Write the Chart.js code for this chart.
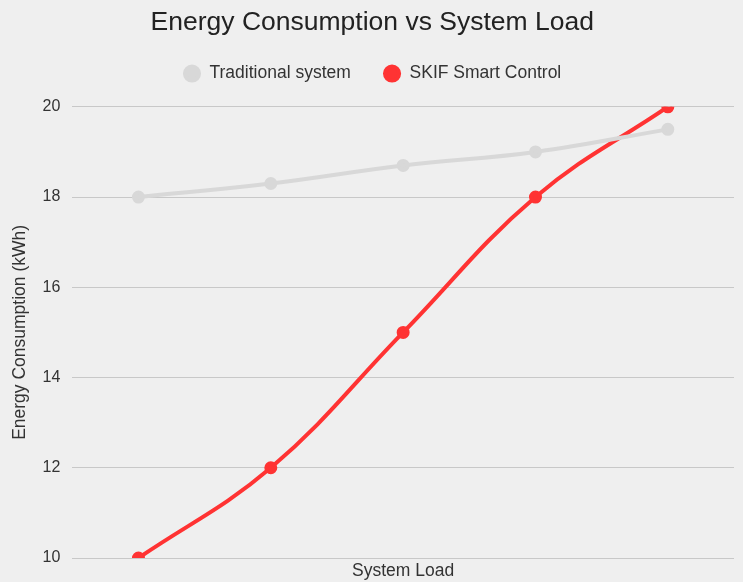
<!DOCTYPE html>
<html>
<head>
<meta charset="utf-8">
<script src="https://cdn.jsdelivr.net/npm/chart.js@4"></script>
<style>
  html, body { margin: 0; padding: 0; background: #efefef; }
  #wrap { width: 743px; height: 582px; }
</style>
</head>
<body>
<div id="wrap"><canvas id="c"></canvas></div>
<script>
// Load steps along the x axis (labels are not shown on the axis)
const loadLevels = ['20%', '40%', '60%', '80%', '100%'];
// Energy consumption in kWh for each load step
const traditionalValues = [18, 18.3, 18.7, 19, 19.5];
const skifValues = [10, 12, 15, 18, 20];
// Y axis range and tick step
const yMin = 10;
const yMax = 20;
const yStep = 2;

const fontFamily = '"Liberation Sans", Arial, Helvetica, sans-serif';

// Paint the light grey page colour behind the whole canvas
const bgPlugin = {
  id: 'bg',
  beforeDraw(chart) {
    const ctx = chart.ctx;
    ctx.save();
    ctx.fillStyle = '#efefef';
    ctx.fillRect(0, 0, chart.width, chart.height);
    ctx.restore();
  }
};

new Chart(document.getElementById('c'), {
  type: 'line',
  data: {
    labels: loadLevels,
    datasets: [
      {
        label: 'Traditional system',
        data: traditionalValues,
        borderColor: '#d8d8d8',
        backgroundColor: '#d8d8d8',
        borderWidth: 4,
        pointRadius: 4.5,
        pointHoverRadius: 5,
        tension: 0.4
      },
      {
        label: 'SKIF Smart Control',
        data: skifValues,
        borderColor: '#ff3333',
        backgroundColor: '#ff3333',
        borderWidth: 4,
        pointRadius: 4.5,
        pointHoverRadius: 5,
        tension: 0.4
      }
    ]
  },
  options: {
    responsive: true,
    maintainAspectRatio: false,
    animation: false,
    layout: { padding: { left: 9.5, right: 8, top: 7, bottom: 0 } },
    plugins: {
      title: {
        display: true,
        text: 'Energy Consumption vs System Load',
        color: '#222',
        font: { family: fontFamily, size: 26.5, weight: 'normal', lineHeight: 1.2 },
        padding: { top: 0, bottom: 13 }
      },
      // empty box that sits under the legend to leave room above the plot
      subtitle: {
        display: true,
        text: '',
        weight: 500,
        padding: 0,
        font: { size: 14.5, lineHeight: 1 }
      },
      legend: {
        display: true,
        labels: {
          usePointStyle: true,
          pointStyle: 'circle',
          boxWidth: 17.5,
          boxHeight: 10,
          padding: 13,
          color: '#333',
          font: { family: fontFamily, size: 17.5 },
          generateLabels(chart) {
            const items = Chart.defaults.plugins.legend.labels.generateLabels(chart);
            // wider gap after the first entry
            if (items.length > 1) items[0].text = items[0].text + '    ';
            return items;
          }
        }
      },
      tooltip: { enabled: false }
    },
    scales: {
      x: {
        offset: true,
        grid: { display: false, drawTicks: false },
        border: { display: false },
        ticks: { display: false },
        title: {
          display: true,
          text: 'System Load',
          color: '#333',
          font: { family: fontFamily, size: 17.5, lineHeight: 1.2 },
          padding: { top: 3, bottom: 0 }
        }
      },
      y: {
        min: yMin,
        max: yMax,
        grid: { color: '#c8c8c8', lineWidth: 1, drawTicks: false },
        border: { display: false },
        ticks: {
          stepSize: yStep,
          padding: 12,
          color: '#333',
          font: { family: fontFamily, size: 16 }
        },
        title: {
          display: true,
          text: 'Energy Consumption (kWh)',
          color: '#333',
          font: { family: fontFamily, size: 17.5, lineHeight: 1.2 },
          padding: { top: 0, bottom: 0 }
        }
      }
    }
  },
  plugins: [bgPlugin]
});
</script>
</body>
</html>
